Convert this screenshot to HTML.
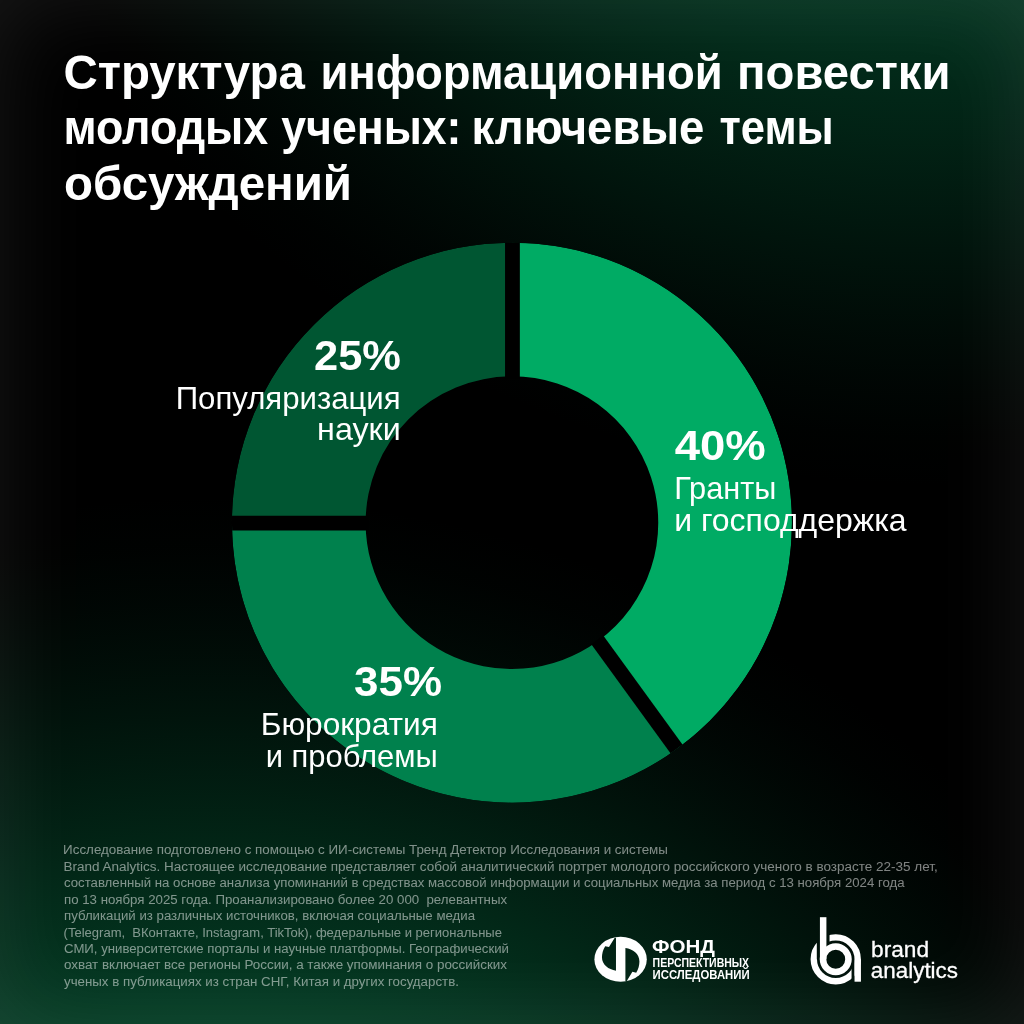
<!DOCTYPE html>
<html lang="ru">
<head>
<meta charset="utf-8">
<title>Структура информационной повестки молодых ученых</title>
<style>
  html, body { margin: 0; padding: 0; background: #000; }
  body { width: 1024px; height: 1024px; overflow: hidden; position: relative; }
  #stage {
    position: absolute; left: 0; top: 0; width: 1024px; height: 1024px; overflow: hidden;
    background:
      radial-gradient(ellipse 1024px 1003px at 923px -516px, rgba(4,81,49,1.000) 0%, rgba(4,81,49,0.996) 5%, rgba(4,81,49,0.984) 10%, rgba(4,81,49,0.964) 15%, rgba(4,81,49,0.937) 20%, rgba(4,81,49,0.902) 25%, rgba(4,81,49,0.861) 30%, rgba(4,81,49,0.812) 35%, rgba(4,81,49,0.758) 40%, rgba(4,81,49,0.698) 45%, rgba(4,81,49,0.633) 50%, rgba(4,81,49,0.564) 55%, rgba(4,81,49,0.492) 60%, rgba(4,81,49,0.418) 65%, rgba(4,81,49,0.343) 70%, rgba(4,81,49,0.268) 75%, rgba(4,81,49,0.197) 80%, rgba(4,81,49,0.130) 85%, rgba(4,81,49,0.071) 90%, rgba(4,81,49,0.025) 95%, rgba(4,81,49,0.000) 100%),
      radial-gradient(ellipse 1097px 1071px at 211px 1566px, rgba(5,96,57,1.000) 0%, rgba(5,96,57,0.996) 5%, rgba(5,96,57,0.984) 10%, rgba(5,96,57,0.964) 15%, rgba(5,96,57,0.937) 20%, rgba(5,96,57,0.902) 25%, rgba(5,96,57,0.861) 30%, rgba(5,96,57,0.812) 35%, rgba(5,96,57,0.758) 40%, rgba(5,96,57,0.698) 45%, rgba(5,96,57,0.633) 50%, rgba(5,96,57,0.564) 55%, rgba(5,96,57,0.492) 60%, rgba(5,96,57,0.418) 65%, rgba(5,96,57,0.343) 70%, rgba(5,96,57,0.268) 75%, rgba(5,96,57,0.197) 80%, rgba(5,96,57,0.130) 85%, rgba(5,96,57,0.071) 90%, rgba(5,96,57,0.025) 95%, rgba(5,96,57,0.000) 100%),
      #000;
  }
  #stage::after {
    content: ""; position: absolute; inset: 0; pointer-events: none;
    box-shadow: inset 0 0 90px rgba(255,255,255,0.095);
  }
  svg { position: absolute; left: 0; top: 0; will-change: transform; }
  text { font-family: "Liberation Sans", sans-serif; fill: #fff; }
  .t { font-weight: bold; font-size: 48px; }
  .p { font-weight: bold; font-size: 42px; }
  .l { font-size: 32px; }
  .f { font-size: 12.3px; fill: #fff; fill-opacity: 0.5; }
</style>
</head>
<body>
<div id="stage">
<svg width="1024" height="1024" viewBox="0 0 1024 1024">
  <defs><clipPath id="dclip"><circle cx="511.95" cy="522.65" r="280.0"/></clipPath></defs>
  <!-- DONUT -->
  <g id="donut" clip-path="url(#dclip)">
    <path fill="#00ab64" d="M511.95 242.65A280.0 280.0 0 0 1 676.53 749.17L597.94 641.01A146.3 146.3 0 0 0 511.95 376.35Z"/>
    <path fill="#00814d" d="M676.53 749.17A280.0 280.0 0 0 1 231.95 522.65L365.65 522.65A146.3 146.3 0 0 0 597.94 641.01Z"/>
    <path fill="#005632" d="M231.95 522.65A280.0 280.0 0 0 1 511.95 242.65L511.95 376.35A146.3 146.3 0 0 0 365.65 522.65Z"/>
    <line x1="512.45" y1="378.80" x2="512.45" y2="241.90" stroke="#000" stroke-width="14.8"/>
    <line x1="597.27" y1="639.84" x2="677.74" y2="750.60" stroke="#000" stroke-width="14.8"/>
    <line x1="368.15" y1="523.10" x2="231.25" y2="523.10" stroke="#000" stroke-width="14.8"/>
  </g>
  <!-- TITLE -->
  <text class="t" y="88.8"><tspan x="63.40" textLength="241.50" lengthAdjust="spacingAndGlyphs">Структура</tspan> <tspan x="320.40" textLength="402.30" lengthAdjust="spacingAndGlyphs">информационной</tspan> <tspan x="737.10" textLength="213.40" lengthAdjust="spacingAndGlyphs">повестки</tspan></text>
  <text class="t" y="144.3"><tspan x="63.40" textLength="204.80" lengthAdjust="spacingAndGlyphs">молодых</tspan> <tspan x="281.20" textLength="180.20" lengthAdjust="spacingAndGlyphs">ученых:</tspan> <tspan x="471.50" textLength="232.90" lengthAdjust="spacingAndGlyphs">ключевые</tspan> <tspan x="719.50" textLength="114.20" lengthAdjust="spacingAndGlyphs">темы</tspan></text>
  <text class="t" y="199.8"><tspan x="64.00" textLength="288.00" lengthAdjust="spacingAndGlyphs">обсуждений</tspan></text>
  <!-- LABELS -->
  <text class="p" x="314.06" y="370" textLength="86.94" lengthAdjust="spacingAndGlyphs">25%</text>
  <text class="l" x="175.66" y="409" textLength="224.99" lengthAdjust="spacingAndGlyphs">Популяризация</text>
  <text class="l" x="317.10" y="440.4" textLength="83.55" lengthAdjust="spacingAndGlyphs">науки</text>
  <text class="p" x="674.75" y="459.5" textLength="91.00" lengthAdjust="spacingAndGlyphs">40%</text>
  <text class="l" x="674.16" y="499.4" textLength="102.24" lengthAdjust="spacingAndGlyphs">Гранты</text>
  <text class="l" x="674.16" y="530.6" textLength="232.48" lengthAdjust="spacingAndGlyphs">и господдержка</text>
  <text class="p" x="354.06" y="696.4" textLength="87.94" lengthAdjust="spacingAndGlyphs">35%</text>
  <text class="l" x="260.66" y="735.4" textLength="177.20" lengthAdjust="spacingAndGlyphs">Бюрократия</text>
  <text class="l" x="265.66" y="766.6" textLength="172.20" lengthAdjust="spacingAndGlyphs">и проблемы</text>
  <!-- FOOTER -->
  <g class="f">
  <text x="63.10" y="854.0" textLength="604.80" lengthAdjust="spacingAndGlyphs">Исследование подготовлено с помощью с ИИ-системы Тренд Детектор Исследования и системы</text>
  <text x="63.56" y="870.5" textLength="874.09" lengthAdjust="spacingAndGlyphs">Brand Analytics. Настоящее исследование представляет собой аналитический портрет молодого российского ученого в возрасте 22-35 лет,</text>
  <text x="63.98" y="887.0" textLength="840.58" lengthAdjust="spacingAndGlyphs">составленный на основе анализа упоминаний в средствах массовой информации и социальных медиа за период с 13 ноября 2024 года</text>
  <text x="64.00" y="903.5" textLength="443.04" lengthAdjust="spacingAndGlyphs" xml:space="preserve">по 13 ноября 2025 года. Проанализировано более 20 000  релевантных</text>
  <text x="64.00" y="920.0" textLength="411.00" lengthAdjust="spacingAndGlyphs">публикаций из различных источников, включая социальные медиа</text>
  <text x="63.58" y="936.5" textLength="438.38" lengthAdjust="spacingAndGlyphs" xml:space="preserve">(Telegram,  ВКонтакте, Instagram, TikTok), федеральные и региональные</text>
  <text x="64.00" y="952.9" textLength="444.96" lengthAdjust="spacingAndGlyphs">СМИ, университетские порталы и научные платформы. Географический</text>
  <text x="63.96" y="969.4" textLength="443.08" lengthAdjust="spacingAndGlyphs">охват включает все регионы России, а также упоминания о российских</text>
  <text x="64.00" y="985.9" textLength="394.92" lengthAdjust="spacingAndGlyphs">ученых в публикациях из стран СНГ, Китая и других государств.</text>
  </g>
  <!-- LOGOS -->
  <g id="fpi">
    <mask id="mfpi" maskUnits="userSpaceOnUse" x="590" y="930" width="70" height="60">
      <ellipse cx="620.6" cy="959.3" rx="26.2" ry="22.5" fill="#fff"/>
      <g transform="translate(590,930) scale(0.068359)" fill="#000">
        <path d="M362 112 L278 248 L222 236 C190 290 175 345 175 400 C175 510 270 580 380 595 L380 112 Z"/>
        <path d="M362 112 L278 248 L222 236 C190 290 175 345 175 400 C175 510 270 580 380 595 L380 112 Z" transform="rotate(180 449 430)"/>
      </g>
    </mask>
    <rect x="590" y="930" width="70" height="60" fill="#fff" mask="url(#mfpi)"/>
    <text x="652" y="953.4" font-weight="bold" font-size="18" textLength="63" lengthAdjust="spacingAndGlyphs">ФОНД</text>
    <text x="652.6" y="967.3" font-weight="bold" font-size="12" textLength="96.5" lengthAdjust="spacingAndGlyphs">ПЕРСПЕКТИВНЫХ</text>
    <text x="652.6" y="978.7" font-weight="bold" font-size="12" textLength="97" lengthAdjust="spacingAndGlyphs">ИССЛЕДОВАНИЙ</text>
  </g>
  <g id="ba">
    <mask id="mba" maskUnits="userSpaceOnUse" x="800" y="910" width="70" height="80">
      <rect x="800" y="910" width="70" height="80" fill="#fff"/>
      <rect x="816.8" y="910" width="12.73" height="49.3" fill="#000"/>
      <rect x="851.56" y="959.3" width="2.97" height="30" fill="#000"/>
    </mask>
    <circle cx="835.74" cy="959.3" r="21.95" fill="none" stroke="#fff" stroke-width="6.41" mask="url(#mba)"/>
    <circle cx="835.74" cy="959.3" r="12.73" fill="none" stroke="#fff" stroke-width="6.56"/>
    <rect x="819.92" y="917.2" width="6.49" height="42.1" fill="#fff"/>
    <rect x="854.53" y="959.3" width="6.41" height="22.4" fill="#fff"/>
    <text x="871.1" y="956.8" font-size="22" textLength="58" lengthAdjust="spacingAndGlyphs" stroke="#fff" stroke-width="0.3">brand</text>
    <text x="870.8" y="978.4" font-size="22" textLength="87.2" lengthAdjust="spacingAndGlyphs" stroke="#fff" stroke-width="0.3">analytics</text>
  </g>
</svg>
</div>
</body>
</html>
